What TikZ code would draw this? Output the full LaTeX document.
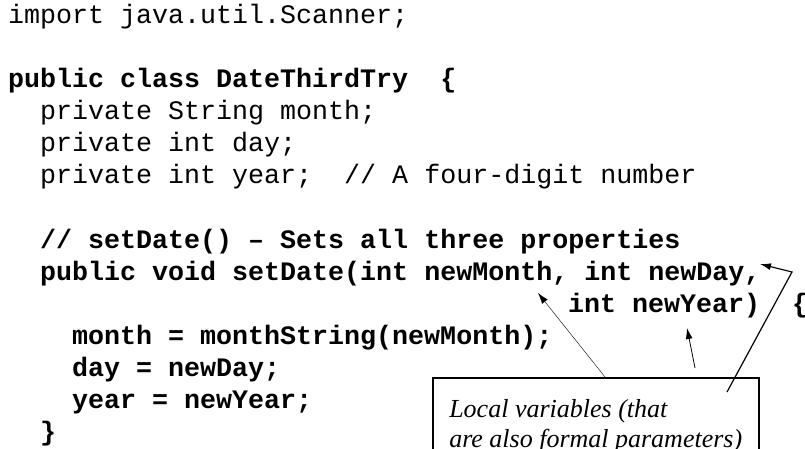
\documentclass[tikz,border=0pt]{standalone}
\usepackage{fontspec}
\setmonofont{Liberation Mono}
\newfontfamily\notefont{Liberation Serif}
\usetikzlibrary{arrows.meta}
\tikzset{
  srcline/.style={anchor=base west,inner sep=0pt,font=\fontsize{26.67}{32}\selectfont\ttfamily},
  srcbold/.style={srcline,font=\fontsize{26.67}{32}\selectfont\ttfamily\bfseries},
  note/.style={draw,line width=1.5pt,anchor=north west,inner xsep=15pt,inner ysep=22pt,
    minimum width=326pt,align=left,font=\fontsize{26}{30}\selectfont\notefont\itshape},
  pointer/.style={-{Latex[length=11pt,width=7pt]}}
}
\begin{document}
\begin{tikzpicture}[x=1pt,y=-1pt]
   \clip (0,0) rectangle (805,449);
   % class header and fields
   \node [srcline] (imp) at (8,24) {import java.util.Scanner;};
   \node [srcbold] (cls) at (8,88) {public class DateThirdTry\ \ \{};
   \node [srcline] (fmonth) at (40,120) {private String month;};
   \node [srcline] (fday) at (40,152) {private int day;};
   \node [srcline] (fyear) at (40,184) {private int year;\ \ // A four-digit number};
   % the method
   \node [srcbold] (cmt) at (40,248) {// setDate() – Sets all three properties};
   \node [srcbold] (sig) at (40,280) {public void setDate(int newMonth, int newDay,};
   \node [srcbold] (sigb) at (568,312) {int newYear)};
   \node [srcbold] (open) at (792,312) {\{};
   \node [srcbold] (setm) at (72,344) {month = monthString(newMonth);};
   \node [srcbold] (setd) at (72,376) {day = newDay;};
   \node [srcbold] (sety) at (72,408) {year = newYear;};
   \node [srcbold] (close) at (40,440) {\}};
   % callout
   \node [note] (note) at (432,377) {Local variables (that\\are also formal parameters)};
   \coordinate (tipmonth) at (538,293);
   \coordinate (tipyear) at (687,328);
   \coordinate (tipday) at (760,264);
   \coordinate (frommonth) at (605,377);
   \coordinate (fromyear) at (695,368);
   \coordinate (fromday) at (727,392);
   \coordinate (bend) at (792,272);
   \draw [pointer,line width=0.4pt] (frommonth) -- (tipmonth);
   \draw [pointer,line width=0.8pt] (fromyear) -- (tipyear);
   \draw [pointer,line width=1.2pt] (fromday) -- (bend) -- (tipday);
\end{tikzpicture}
\end{document}
